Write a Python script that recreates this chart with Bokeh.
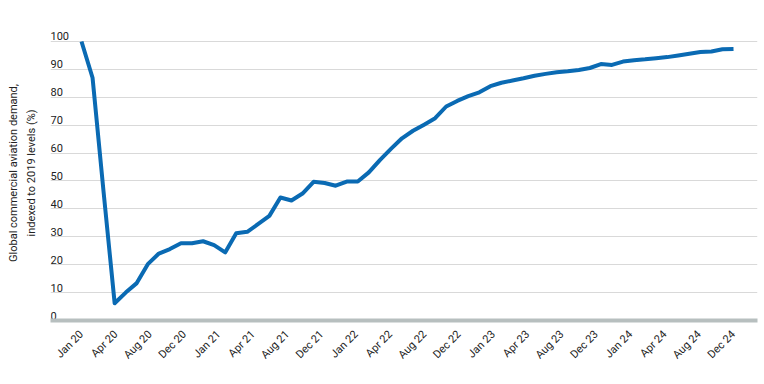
import numpy as np
from bokeh.plotting import figure
from bokeh.models import Range1d, FixedTicker
from bokeh.core.properties import value
from bokeh.embed import file_html
from bokeh.resources import INLINE
import math

# Monthly demand index, Jan 2020 .. Dec 2024 (60 months)
demand = [100, 87, 46, 6.2, 10, 13.4, 20.2, 24, 25.6, 27.7, 27.7, 28.4,
          27, 24.4, 31.3, 31.8, 34.6, 37.5, 44.1, 43, 45.5, 49.7, 49.3, 48.3,
          49.8, 49.8, 53.1, 57.5, 61.5, 65.3, 68, 70.2, 72.5, 76.7, 78.7, 80.4,
          81.8, 84.0, 85.2, 86.0, 86.8, 87.7, 88.4, 89.0, 89.3, 89.8, 90.5, 91.9,
          91.6, 92.8, 93.3, 93.6, 94.0, 94.4, 95.0, 95.6, 96.2, 96.4, 97.2, 97.3]
months = list(range(len(demand)))

x_tick_labels = ["Jan 20", "Apr 20", "Aug 20", "Dec 20", "Jan 21", "Apr 21", "Aug 21",
                 "Dec 21", "Jan 22", "Apr 22", "Aug 22", "Dec 22", "Jan 23", "Apr 23",
                 "Aug 23", "Dec 23", "Jan 24", "Apr 24", "Aug 24", "Dec 24"]
y_ticks = [0, 10, 20, 30, 40, 50, 60, 70, 80, 90, 100]

FONT = "Roboto"
TXT = "#222222"

xr = Range1d(-2.805, 61.17)
yr = Range1d(0, 105.73)

p = figure(width=760, height=376, output_backend="svg", toolbar_location=None,
           x_range=xr, y_range=yr, min_border_left=50, min_border_right=3,
           min_border_top=25, min_border_bottom=56)
p.outline_line_color = None
p.background_fill_color = "white"
p.border_fill_color = "white"

# gridlines
p.xgrid.grid_line_color = None
p.ygrid.ticker = FixedTicker(ticks=y_ticks)
p.ygrid.grid_line_color = "#d9d9d9"
p.ygrid.grid_line_width = 1

# y axis: only the title
yax = p.yaxis[0]
yax.ticker = FixedTicker(ticks=[])
yax.axis_line_color = None
yax.major_tick_line_color = None
yax.minor_tick_line_color = None
yax.major_tick_out = 0
yax.major_label_standoff = 0
yax.axis_label = "Global commercial aviation demand,\nindexed to 2019 levels (%)"
yax.axis_label_text_font = FONT
yax.axis_label_text_font_style = "normal"
yax.axis_label_text_font_size = "11px"
yax.axis_label_text_line_height = 1.35
yax.axis_label_text_color = TXT
yax.axis_label_standoff = 13

# x axis
tick_pos = list(np.linspace(0, len(demand) - 1, len(x_tick_labels)))
xax = p.xaxis[0]
xax.ticker = FixedTicker(ticks=tick_pos)
xax.major_label_overrides = {t: lab for t, lab in zip(tick_pos, x_tick_labels)}
xax.major_label_orientation = math.pi / 4
xax.axis_line_color = "#b7bfbf"
xax.axis_line_width = 4
xax.major_tick_line_color = None
xax.minor_tick_line_color = None
xax.major_tick_out = 0
xax.major_label_standoff = 12
xax.major_label_text_font = FONT
xax.major_label_text_font_size = "11px"
xax.major_label_text_color = TXT

# y tick labels above gridlines at the left edge
p.text(x=[xr.start] * len(y_ticks), y=y_ticks, text=[str(v) for v in y_ticks],
       text_font=value(FONT), text_font_size="11px", text_color=TXT,
       text_align="left", text_baseline="alphabetic", y_offset=-5)

p.line(months, demand, line_width=4, line_color="#0a6ab3", line_join="round")

open("out.html", "w").write(file_html(p, INLINE))
